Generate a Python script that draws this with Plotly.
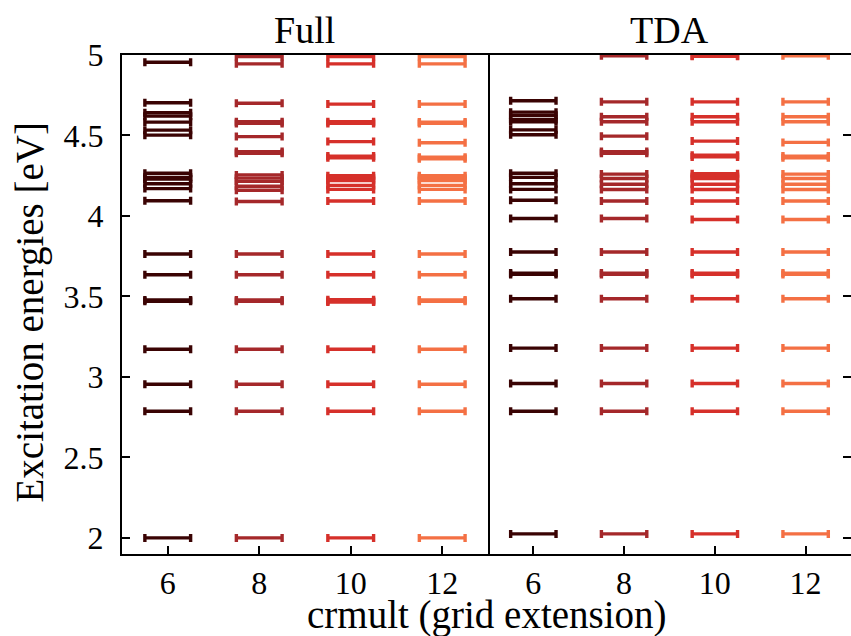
import plotly.graph_objects as go

crmult = [6, 8, 10, 12]
colors = ['#3a0303', '#a5282a', '#d6302a', '#f47044']
y_ticks = [2, 2.5, 3, 3.5, 4, 4.5, 5]
y_tick_labels = ['2', '2.5', '3', '3.5', '4', '4.5', '5']

full_6 = [4.955, 4.703, 4.641, 4.620, 4.583, 4.533, 4.502, 4.265, 4.24, 4.23, 4.20, 4.17, 4.095,
          3.764, 3.635, 3.478, 3.470, 3.172, 2.955, 2.787, 2.000]
full_8 = [4.99, 4.945, 4.70, 4.585, 4.575, 4.493, 4.40, 4.39, 4.255, 4.235, 4.215, 4.185, 4.16, 4.09,
          3.764, 3.635, 3.478, 3.470, 3.172, 2.955, 2.787, 2.000]
full_10 = [4.99, 4.945, 4.695, 4.585, 4.575, 4.462, 4.372, 4.362, 4.25, 4.235, 4.22, 4.19, 4.165, 4.093,
           3.764, 3.635, 3.48, 3.47, 3.465, 3.172, 2.955, 2.787, 2.000]
full_12 = [4.99, 4.945, 4.695, 4.583, 4.575, 4.455, 4.365, 4.355, 4.25, 4.235, 4.22, 4.19, 4.165, 4.093,
           3.764, 3.635, 3.478, 3.470, 3.172, 2.955, 2.787, 2.000]

tda_6 = [4.716, 4.645, 4.625, 4.60, 4.585, 4.535, 4.505, 4.265, 4.24, 4.20, 4.165, 4.098, 3.984,
         3.776, 3.645, 3.637, 3.486, 3.179, 2.959, 2.787, 2.025]
tda_8 = [4.995, 4.709, 4.616, 4.585, 4.496, 4.40, 4.39, 4.26, 4.233, 4.197, 4.164, 4.093, 3.984,
         3.776, 3.645, 3.637, 3.486, 3.179, 2.959, 2.787, 2.025]
tda_10 = [4.995, 4.992, 4.709, 4.616, 4.585, 4.465, 4.377, 4.367, 4.262, 4.245, 4.233, 4.197, 4.164, 4.093,
          3.978, 3.776, 3.645, 3.637, 3.486, 3.179, 2.959, 2.787, 2.025]
tda_12 = [4.995, 4.709, 4.616, 4.585, 4.457, 4.372, 4.362, 4.26, 4.233, 4.197, 4.164, 4.093, 3.978,
          3.776, 3.645, 3.637, 3.486, 3.179, 2.959, 2.787, 2.025]

full = [full_6, full_8, full_10, full_12]
tda = [tda_6, tda_8, tda_10, tda_12]

FONT = 'Liberation Serif'
fig = go.Figure()

for data, xa, ya in [(full, 'x', 'y'), (tda, 'x2', 'y2')]:
    for c, vals, col in zip(crmult, data, colors):
        fig.add_trace(go.Scatter(
            x=[c] * len(vals), y=vals, mode='markers', xaxis=xa, yaxis=ya,
            marker=dict(size=1, color=col),
            error_x=dict(type='constant', value=0.5, color=col, thickness=3.4, width=4),
            showlegend=False, hoverinfo='y'))

split = 0.502
common = dict(showline=True, linecolor='black', linewidth=2,
              showgrid=False, zeroline=False, ticks='inside', ticklen=8,
              tickwidth=1.5, tickcolor='black')
fig.update_layout(
    width=851, height=636,
    margin=dict(l=122, r=0, t=55, b=82),
    plot_bgcolor='white', paper_bgcolor='white',
    font=dict(family=FONT, size=32, color='black'),
    xaxis=dict(domain=[0, split], range=[5, 13], tickvals=crmult, mirror=True,
               ticklabelstandoff=0, **common),
    xaxis2=dict(domain=[split, 1], range=[5, 13], tickvals=crmult, anchor='y2', mirror=True,
                ticklabelstandoff=0, **common),
    yaxis=dict(range=[1.9, 5], tickvals=y_ticks, ticktext=y_tick_labels, mirror=True,
               ticklabelstandoff=10, **common),
    yaxis2=dict(range=[1.9, 5], tickvals=y_ticks, showticklabels=False, mirror=False,
                side='right', anchor='x2', **common),
    annotations=[
        dict(text='Full', x=split / 2, y=1.0, xref='paper', yref='paper',
             xanchor='center', yanchor='middle', yshift=25, showarrow=False,
             font=dict(size=38, family=FONT)),
        dict(text='TDA', x=split + (1 - split) / 2, y=1.0, xref='paper', yref='paper',
             xanchor='center', yanchor='middle', yshift=25, showarrow=False,
             font=dict(size=38, family=FONT)),
        dict(text='crmult (grid extension)', x=0.5, y=0, xref='paper', yref='paper',
             xanchor='center', yanchor='middle', yshift=-61, showarrow=False,
             font=dict(size=39, family=FONT)),
        dict(text='Excitation energies [eV]', x=0, y=0.5, xref='paper', yref='paper',
             textangle=-90, xanchor='center', yanchor='middle', xshift=-93, yshift=-8,
             showarrow=False, font=dict(size=39, family=FONT)),
    ],
)

fig.write_html('out.html', config={'displayModeBar': False},
               post_script="document.body.style.margin='0';")
